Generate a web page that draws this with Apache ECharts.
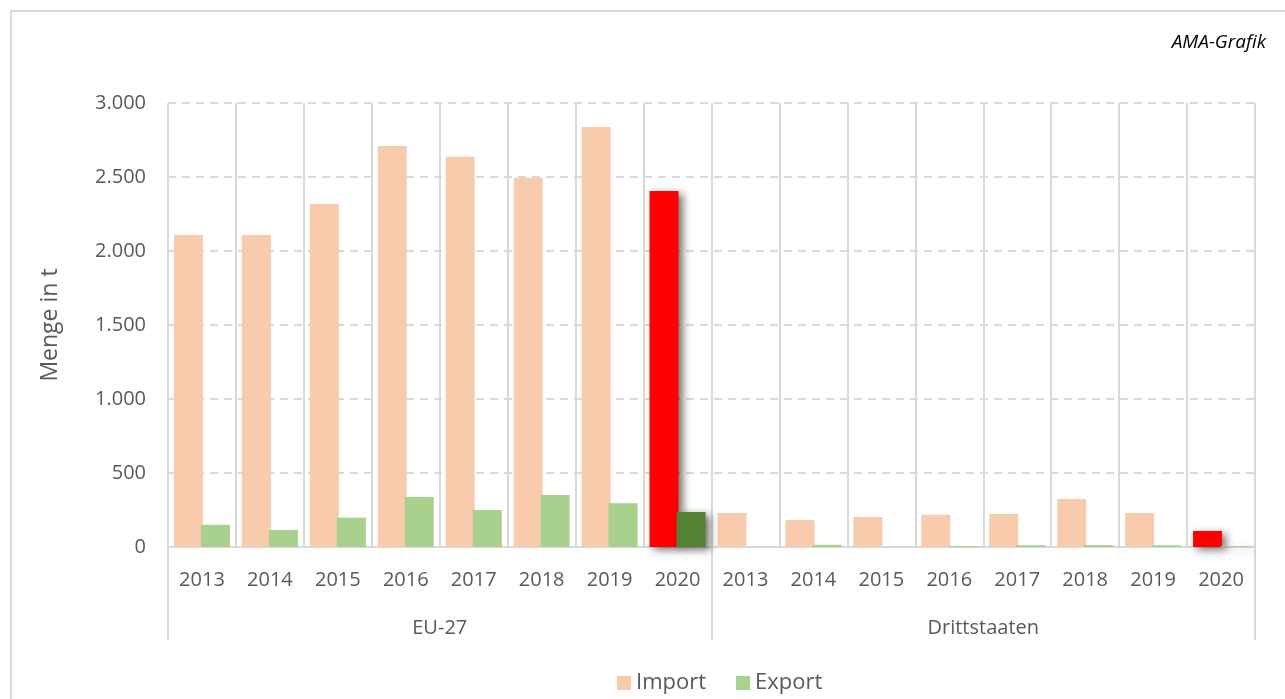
<!DOCTYPE html>
<html>
<head>
<meta charset="utf-8">
<title>Import / Export</title>
<script src="https://cdn.jsdelivr.net/npm/echarts@6/dist/echarts.min.js"></script>
<style>
    html, body {margin: 0; padding: 0; background: #fff;}
    #frame {position: absolute; left: 10px; top: 10px; width: 1290px; height: 700px; border: 2px solid #d9d9d9; box-sizing: border-box;}
    #main {position: absolute; left: 0; top: 0; width: 1285px; height: 699px;}
</style>
</head>
<body>
<div id="frame"></div>
<div id="main"></div>
<script>
// Daten
var years = ['2013', '2014', '2015', '2016', '2017', '2018', '2019', '2020'];
var groups = ['EU-27', 'Drittstaaten'];
var importEU = [2108, 2108, 2318, 2710, 2637, 2493, 2838, 2405];
var exportEU = [150, 115, 198, 338, 250, 351, 295, 236];
var importDritt = [230, 182, 203, 218, 223, 324, 230, 108];
var exportDritt = [1, 15, 1, 7, 12, 13, 12, 5];
var yTicks = [0, 500, 1000, 1500, 2000, 2500, 3000];

var font = 'Open Sans';
var grey = '#595959';

var categories = years.concat(years);

// 2020 hervorgehoben
var shadow = {shadowColor: 'rgba(0,0,0,0.55)', shadowBlur: 8, shadowOffsetX: 4, shadowOffsetY: 3};
function build(vals, hiColor) {
    return vals.map(function (v, i) {
        if (i == vals.length - 1 && hiColor) {
            return {value: v, itemStyle: Object.assign({color: hiColor}, shadow)};
        }
        return v;
    });
}
var importData = build(importEU, '#ff0000').concat(build(importDritt, '#ff0000'));
var exportData = build(exportEU, '#548235').concat(build(exportDritt, '#a9d18e'));

function fmt(v) {
    return String(v).replace(/\B(?=(\d{3})+(?!\d))/g, '.');
}

var myChart = echarts.init(document.getElementById('main'));

var option = {
    animation: false,
    textStyle: {fontFamily: font},
    title: {
        text: 'AMA-Grafik',
        right: 14,
        top: 28,
        textStyle: {fontFamily: font, fontStyle: 'italic', fontWeight: 'normal', fontSize: 19, color: '#000'}
    },
    legend: {
        bottom: 0,
        left: 612,
        itemWidth: 14,
        itemHeight: 14,
        itemGap: 30,
        icon: 'rect',
        textStyle: {fontFamily: font, fontSize: 22, color: grey},
        data: ['Import', 'Export']
    },
    grid: {left: 168, right: 30, top: 103, bottom: 152},
    xAxis: [
        {
            type: 'category',
            data: categories,
            axisLine: {lineStyle: {color: '#d9d9d9', width: 2}},
            axisTick: {show: false},
            splitLine: {show: true, lineStyle: {color: '#d9d9d9', width: 2}},
            axisLabel: {interval: 0, margin: 23, fontSize: 20, color: grey, fontFamily: font}
        },
        {
            type: 'category',
            position: 'bottom',
            data: groups,
            axisLine: {show: false},
            axisTick: {show: true, length: 93, lineStyle: {color: '#d9d9d9', width: 2}},
            axisLabel: {interval: 0, margin: 71, fontSize: 20, color: grey, fontFamily: font}
        }
    ],
    yAxis: {
        type: 'value',
        min: yTicks[0],
        max: yTicks[yTicks.length - 1],
        interval: yTicks[1] - yTicks[0],
        name: 'Menge in t',
        nameLocation: 'middle',
        nameRotate: 90,
        nameGap: 106,
        nameTextStyle: {fontSize: 23, color: grey, fontFamily: font},
        axisLine: {show: false},
        axisTick: {show: false},
        axisLabel: {fontSize: 20, color: grey, margin: 22, fontFamily: font, formatter: fmt},
        splitLine: {lineStyle: {color: '#d9d9d9', width: 2, type: [8, 6]}}
    },
    series: [
        {
            name: 'Import',
            type: 'bar',
            xAxisIndex: 0,
            barWidth: 29,
            barGap: '-7%',
            itemStyle: {color: '#f8cbad'},
            data: importData
        },
        {
            name: 'Export',
            type: 'bar',
            xAxisIndex: 0,
            barWidth: 29,
            barGap: '-7%',
            itemStyle: {color: '#a9d18e'},
            data: exportData
        }
    ]
};

myChart.setOption(option);
</script>
</body>
</html>
